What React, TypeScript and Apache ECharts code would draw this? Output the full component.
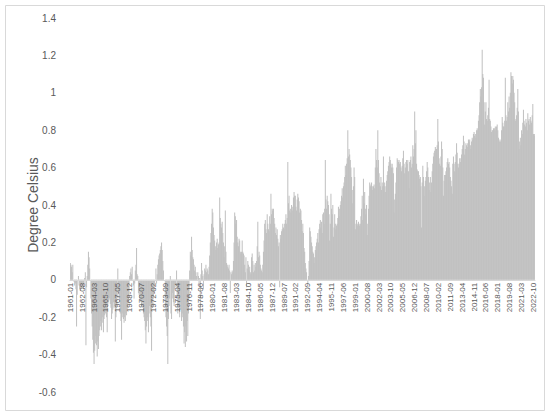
import React, { useEffect, useRef } from "react";
import * as echarts from "echarts";

const firstYear = 1961;
const lastYear = 2022;

// Monthly temperature anomalies (°C), one row per year
const anomalies1961to1970 = [
  0.09, 0.08, 0.07, 0.04, 0.08, 0.0, -0.01, -0.03, -0.02, -0.05, -0.25, -0.08,
  0.0, 0.02, -0.03, -0.05, -0.06, -0.05, -0.04, -0.02, -0.03, -0.05, -0.02, 0.01,
  0.04, -0.35, -0.04, 0.02, 0.08, 0.15, 0.12, 0.06, 0.0, -0.1, -0.18, -0.25,
  -0.32, -0.39, -0.45, -0.38, -0.34, -0.3, -0.35, -0.41, -0.33, -0.37, -0.3, -0.27,
  -0.25, -0.22, -0.27, -0.2, -0.23, -0.28, -0.21, -0.19, -0.18, -0.16, -0.2, -0.28,
  -0.14, -0.12, -0.11, -0.1, -0.13, -0.15, -0.21, -0.18, -0.16, -0.12, -0.15, -0.14,
  -0.33, -0.2, -0.14, -0.1, 0.06, -0.07, -0.1, -0.12, -0.18, -0.22, -0.32, -0.2,
  -0.18, -0.21, -0.23, -0.2, -0.22, -0.18, -0.19, -0.16, -0.15, -0.12, -0.08, 0.02,
  0.04, 0.06, 0.03, 0.07, 0.0, -0.03, -0.1, -0.02, 0.05, 0.08, 0.17, 0.03,
  0.02, -0.07, -0.08, -0.1, -0.11, -0.12, -0.14, -0.15, -0.12, -0.18, -0.2, -0.22,
];

const anomalies1971to1980 = [
  -0.27, -0.34, -0.25, -0.2, -0.22, -0.28, -0.18, -0.14, -0.2, -0.25, -0.38, -0.15,
  -0.14, -0.1, -0.07, -0.03, 0.0, 0.06, -0.02, 0.03, 0.08, 0.11, 0.13, 0.14,
  0.16, 0.18, 0.2, 0.16, 0.1, 0.05, 0.0, 0.0, -0.14, -0.2, -0.25, -0.3,
  -0.45, -0.21, -0.14, -0.1, 0.02, -0.18, -0.21, -0.1, -0.07, -0.12, -0.14, -0.05,
  -0.02, -0.04, 0.05, -0.1, -0.18, -0.15, -0.14, -0.2, -0.16, -0.12, -0.22, -0.18,
  -0.2, -0.25, -0.34, -0.28, -0.36, -0.25, -0.33, -0.22, -0.3, -0.18, -0.1, 0.05,
  0.15, 0.13, 0.23, 0.16, 0.12, 0.11, 0.08, 0.05, 0.07, 0.04, 0.02, 0.0,
  0.04, 0.02, -0.02, 0.01, -0.21, 0.03, 0.09, 0.05, 0.02, -0.05, 0.03, 0.06,
  0.05, 0.08, 0.04, 0.06, 0.05, 0.03, 0.07, 0.13, 0.2, 0.25, 0.3, 0.38,
  0.36, 0.28, 0.24, 0.21, 0.18, 0.16, 0.2, 0.22, 0.17, 0.19, 0.2, 0.44,
];

const anomalies1981to1990 = [
  0.33, 0.3, 0.28, 0.31, 0.25, 0.2, 0.12, 0.18, 0.37, 0.15, 0.09, 0.08,
  0.07, 0.06, 0.08, 0.05, -0.07, 0.04, 0.03, 0.05, 0.04, 0.1, 0.2, 0.36,
  0.34, 0.3, 0.32, 0.23, 0.2, 0.18, 0.22, 0.21, 0.15, 0.14, 0.15, 0.21,
  0.15, 0.14, 0.13, 0.08, 0.04, 0.12, -0.04, 0.06, 0.1, 0.08, 0.05, 0.07,
  0.04, 0.03, 0.12, 0.14, 0.1, 0.04, 0.08, 0.05, 0.09, 0.07, 0.1, 0.18,
  0.31, 0.12, 0.15, 0.13, 0.08, 0.06, 0.05, 0.04, 0.08, 0.15, 0.21, 0.3,
  0.32, 0.27, 0.25, 0.35, 0.3, 0.27, 0.26, 0.34, 0.3, 0.46, 0.35, 0.38,
  0.37, 0.38, 0.33, 0.3, 0.25, 0.28, 0.24, 0.27, 0.22, 0.18, 0.2, -0.04,
  0.24, 0.22, 0.26, 0.27, 0.3, 0.28, 0.27, 0.3, 0.32, 0.35, 0.3, 0.33,
  0.63, 0.41, 0.45, 0.37, 0.38, 0.36, 0.4, 0.37, 0.39, 0.44, 0.47, 0.45,
];

const anomalies1991to2000 = [
  0.45, 0.39, 0.37, 0.43, 0.46, 0.44, 0.42, 0.36, 0.38, 0.37, 0.32, 0.26,
  0.3, 0.25, 0.17, 0.15, 0.09, 0.06, 0.04, 0.0, -0.02, 0.02, 0.1, 0.28,
  0.26, 0.23, 0.2, 0.18, 0.15, 0.14, 0.09, 0.12, 0.16, 0.18, 0.2, 0.22,
  0.25, 0.2, 0.27, 0.3, 0.32, 0.28, 0.31, 0.25, 0.35, 0.36, 0.3, 0.38,
  0.64, 0.43, 0.38, 0.45, 0.42, 0.4, 0.35, 0.21, 0.3, 0.46, 0.38, 0.35,
  0.4, 0.23, 0.28, 0.35, 0.3, 0.27, 0.29, 0.3, 0.33, 0.39, 0.34, 0.38,
  0.4, 0.42, 0.45, 0.49, 0.44, 0.5, 0.52, 0.55, 0.61, 0.56, 0.62, 0.65,
  0.8, 0.66, 0.7, 0.67, 0.64, 0.6, 0.55, 0.48, 0.41, 0.5, 0.6, 0.55,
  0.27, 0.3, 0.32, 0.29, 0.3, 0.31, 0.3, 0.29, 0.3, 0.34, 0.38, 0.45,
  0.32, 0.54, 0.41, 0.47, 0.38, 0.35, 0.4, 0.24, 0.3, 0.38, 0.45, 0.52,
];

const anomalies2001to2010 = [
  0.5, 0.51, 0.52, 0.5, 0.48, 0.5, 0.51, 0.49, 0.6, 0.7, 0.64, 0.6,
  0.8, 0.64, 0.57, 0.52, 0.5, 0.55, 0.48, 0.52, 0.5, 0.66, 0.5, 0.52,
  0.47, 0.5, 0.53, 0.56, 0.58, 0.61, 0.63, 0.66, 0.64, 0.62, 0.6, 0.62,
  0.6, 0.57, 0.36, 0.43, 0.46, 0.52, 0.6, 0.65, 0.64, 0.63, 0.64, 0.62,
  0.63, 0.6, 0.58, 0.61, 0.65, 0.69, 0.62, 0.57, 0.6, 0.63, 0.64, 0.62,
  0.64, 0.58, 0.49, 0.63, 0.64, 0.66, 0.6, 0.62, 0.72, 0.66, 0.7, 0.9,
  0.73, 0.8, 0.62, 0.59, 0.58, 0.58, 0.56, 0.54, 0.55, 0.5, 0.28, 0.52,
  0.61, 0.55, 0.45, 0.5, 0.53, 0.55, 0.58, 0.63, 0.6, 0.55, 0.48, 0.52,
  0.55, 0.47, 0.52, 0.58, 0.62, 0.66, 0.68, 0.69, 0.71, 0.7, 0.7, 0.72,
  0.86, 0.74, 0.65, 0.62, 0.61, 0.66, 0.74, 0.7, 0.6, 0.45, 0.53, 0.56,
];

const anomalies2011to2022 = [
  0.56, 0.58, 0.6, 0.63, 0.65, 0.62, 0.63, 0.6, 0.55, 0.53, 0.5, 0.46,
  0.62, 0.66, 0.62, 0.58, 0.63, 0.67, 0.73, 0.68, 0.62, 0.6, 0.62, 0.65,
  0.63, 0.65, 0.67, 0.7, 0.72, 0.77, 0.74, 0.67, 0.7, 0.73, 0.72, 0.71,
  0.73, 0.75, 0.74, 0.75, 0.72, 0.7, 0.74, 0.76, 0.75, 0.78, 0.79, 0.77,
  0.78, 0.76, 0.8, 0.81, 0.8, 0.85, 0.88, 0.95, 1.02, 0.98, 1.03, 1.23,
  1.1, 1.08, 0.95, 0.83, 0.9, 0.95, 0.86, 0.85, 0.88, 0.92, 1.07, 0.86,
  0.85, 0.82, 0.79, 0.8, 0.8, 0.81, 0.8, 0.81, 0.82, 0.8, 0.82, 0.83,
  0.8, 0.76, 0.75, 0.74, 0.74, 0.75, 0.8, 0.87, 0.84, 0.82, 0.82, 0.85,
  1.08, 0.88, 0.85, 0.87, 0.95, 0.9, 0.98, 0.92, 1.0, 1.11, 1.09, 1.05,
  1.09, 1.07, 1.0, 0.95, 0.85, 0.86, 0.88, 0.92, 1.02, 0.9, 0.7, 0.74,
  0.76, 0.72, 0.8, 0.78, 0.84, 0.91, 0.85, 0.83, 0.82, 0.86, 0.84, 0.8,
  0.89, 0.85, 0.86, 0.83, 0.87, 0.85, 0.84, 0.88, 0.94, 0.78, 0.77, 0.78,
];

const anomalies = [
  ...anomalies1961to1970,
  ...anomalies1971to1980,
  ...anomalies1981to1990,
  ...anomalies1991to2000,
  ...anomalies2001to2010,
  ...anomalies2011to2022,
];

const monthLabels: string[] = [];
for (let y = firstYear; y <= lastYear; y++) {
  for (let m = 1; m <= 12; m++) {
    monthLabels.push(`${y}-${m < 10 ? "0" + m : m}`);
  }
}

const yMin = -0.6;
const yMax = 1.4;
const yStep = 0.2;

const CHART_W = 550;
const CHART_H = 413;
const GRID = { left: 70, right: 15, top: 18, bottom: 21 };

export default function App() {
  const ref = useRef<HTMLDivElement>(null);
  useEffect(() => {
    if (!ref.current) return;
    const chart = echarts.init(ref.current, null, { renderer: "svg" });
    // place the category axis (line and labels) at value 0 of the value scale
    const plotH = CHART_H - GRID.top - GRID.bottom;
    const zeroOffset = -((0 - yMin) / (yMax - yMin)) * plotH;
    chart.setOption({
      animation: false,
      backgroundColor: "#ffffff",
      textStyle: { fontFamily: "Liberation Sans" },
      graphic: [
        {
          type: "rect",
          silent: true,
          shape: { x: 5.5, y: 5.5, width: 539, height: 405 },
          style: { fill: "none", stroke: "#d9d9d9", lineWidth: 1 },
        },
      ],
      grid: { ...GRID, outerBoundsMode: "none", containLabel: false },
      xAxis: {
        type: "category",
        data: monthLabels,
        offset: zeroOffset,
        z: 10,
        axisLine: { onZero: false, lineStyle: { color: "#d9d9d9", width: 1 } },
        axisTick: { show: false },
        axisLabel: {
          interval: 18,
          rotate: 90,
          fontSize: 8,
          color: "#595959",
          margin: 3,
          fontFamily: "Liberation Sans",
        },
        splitLine: { show: false },
      },
      yAxis: {
        type: "value",
        min: yMin,
        max: yMax,
        interval: yStep,
        splitLine: { show: false },
        axisLine: { show: false },
        axisTick: { show: false },
        axisLabel: {
          fontSize: 10,
          color: "#595959",
          margin: 14,
          fontFamily: "Liberation Sans",
          formatter: (v: number) => String(Math.round(v * 10) / 10),
        },
        name: "Degree Celsius",
        nameLocation: "middle",
        nameGap: 30,
        nameMoveOverlap: false,
        nameTextStyle: { fontSize: 14, color: "#595959", fontFamily: "Liberation Sans" },
      },
      series: [
        {
          type: "bar",
          data: anomalies,
          barCategoryGap: "0%",
          z: 2,
          itemStyle: { color: "#bfbfbf" },
        },
      ],
    });
    return () => chart.dispose();
  }, []);
  return (
    <div
      ref={ref}
      style={{ position: "fixed", left: 0, top: 0, width: CHART_W, height: CHART_H }}
    />
  );
}
